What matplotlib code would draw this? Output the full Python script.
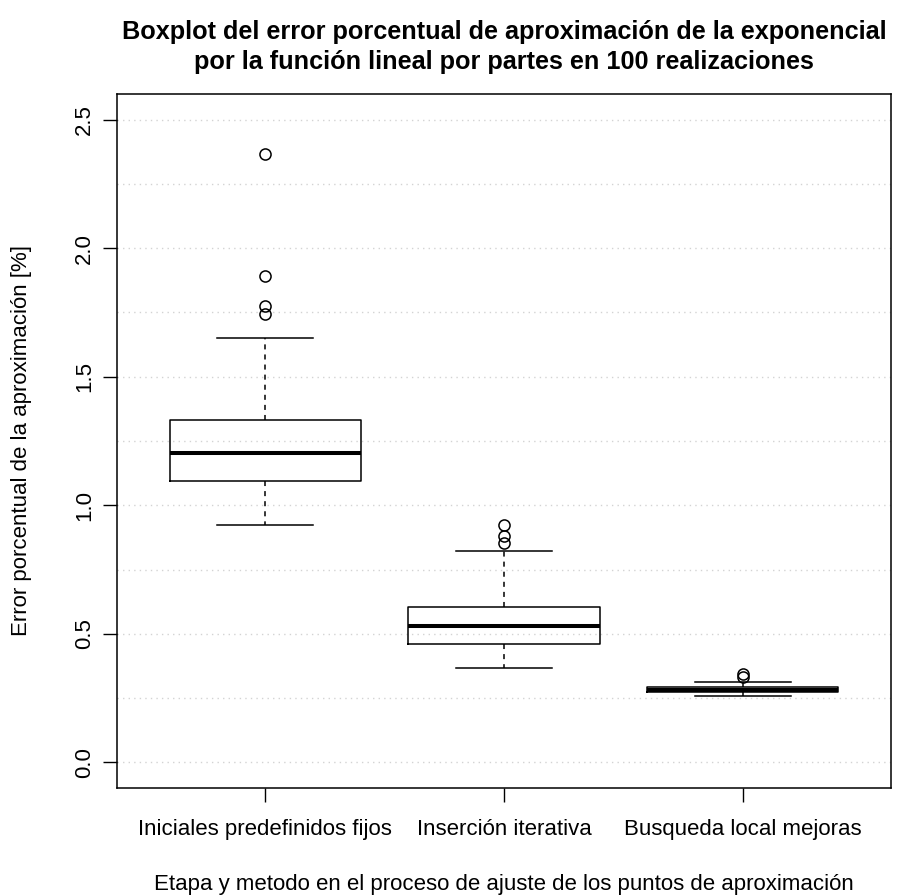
import numpy as np
import matplotlib.pyplot as plt

plt.rcParams['font.family'] = ['Liberation Sans', 'DejaVu Sans']

# summary values (percent error)
etapas = ["Iniciales predefinidos fijos", "Inserción iterativa", "Busqueda local mejoras"]
q1 = [1.094, 0.459, 0.273]
mediana = [1.202, 0.530, 0.283]
q3 = [1.331, 0.606, 0.293]
bigote_inf = [0.923, 0.367, 0.258]
bigote_sup = [1.651, 0.823, 0.312]
atipicos = [
    [2.365, 1.893, 1.776, 1.745],
    [0.922, 0.880, 0.854],
    [0.343, 0.332],
]

stats = []
for i, nombre in enumerate(etapas):
    stats.append(dict(label=nombre, q1=q1[i], med=mediana[i], q3=q3[i],
                      whislo=bigote_inf[i], whishi=bigote_sup[i],
                      fliers=atipicos[i]))

fig = plt.figure(figsize=(9.04, 8.96), dpi=100)
ax = fig.add_axes([117 / 904, 1 - 788 / 896, 774 / 904, 694 / 896])

# dotted grid behind the boxes
for yv in np.arange(0, 2.51, 0.25):
    ax.axhline(yv, color="#d3d3d3", lw=1.0, ls=(0, (1, 3)), zorder=0)

lw = 1.1
ax.bxp(stats, positions=[1, 2, 3], widths=0.8, capwidths=0.4,
       boxprops=dict(color="black", lw=lw),
       medianprops=dict(color="black", lw=2.9, solid_capstyle="butt"),
       whiskerprops=dict(color="black", lw=lw, ls=(0, (3.3, 3.3))),
       capprops=dict(color="black", lw=lw),
       flierprops=dict(marker="o", markerfacecolor="none", markeredgecolor="black",
                       markersize=8, markeredgewidth=1.1, linestyle="none"),
       zorder=2)

ax.set_xlim(0.38, 3.62)
ax.set_ylim(-0.1, 2.6)
ax.set_yticks([0, 0.5, 1.0, 1.5, 2.0, 2.5])
ax.set_yticklabels(["0.0", "0.5", "1.0", "1.5", "2.0", "2.5"], rotation=90, va="center")
ax.set_xticks([1, 2, 3])
ax.set_xticklabels(etapas)
ax.tick_params(axis="both", length=10, width=1.0, labelsize=16, color="black")
ax.tick_params(axis="x", pad=12)
ax.tick_params(axis="y", pad=6)
for s in ax.spines.values():
    s.set_linewidth(1.1)

ax.set_xlabel("Etapa y metodo en el proceso de ajuste de los puntos de aproximación", fontsize=16)
ax.xaxis.set_label_coords(0.5, -(890 - 788) / 694)
ax.xaxis.label.set_va("baseline")
ax.set_ylabel("Error porcentual de la aproximación [%]", fontsize=16)
ax.yaxis.set_label_coords(-(117 - 27) / 774, 0.5)
ax.yaxis.label.set_va("baseline")

xc = (117 + 774 / 2) / 904
fig.text(xc, 1 - 39 / 896, "Boxplot del error porcentual de aproximación de la exponencial",
         ha="center", va="baseline", fontsize=18.2, fontweight="bold")
fig.text(xc, 1 - 69 / 896, "por la función lineal por partes en 100 realizaciones",
         ha="center", va="baseline", fontsize=18.2, fontweight="bold")

fig.savefig("out.png", dpi=100)
